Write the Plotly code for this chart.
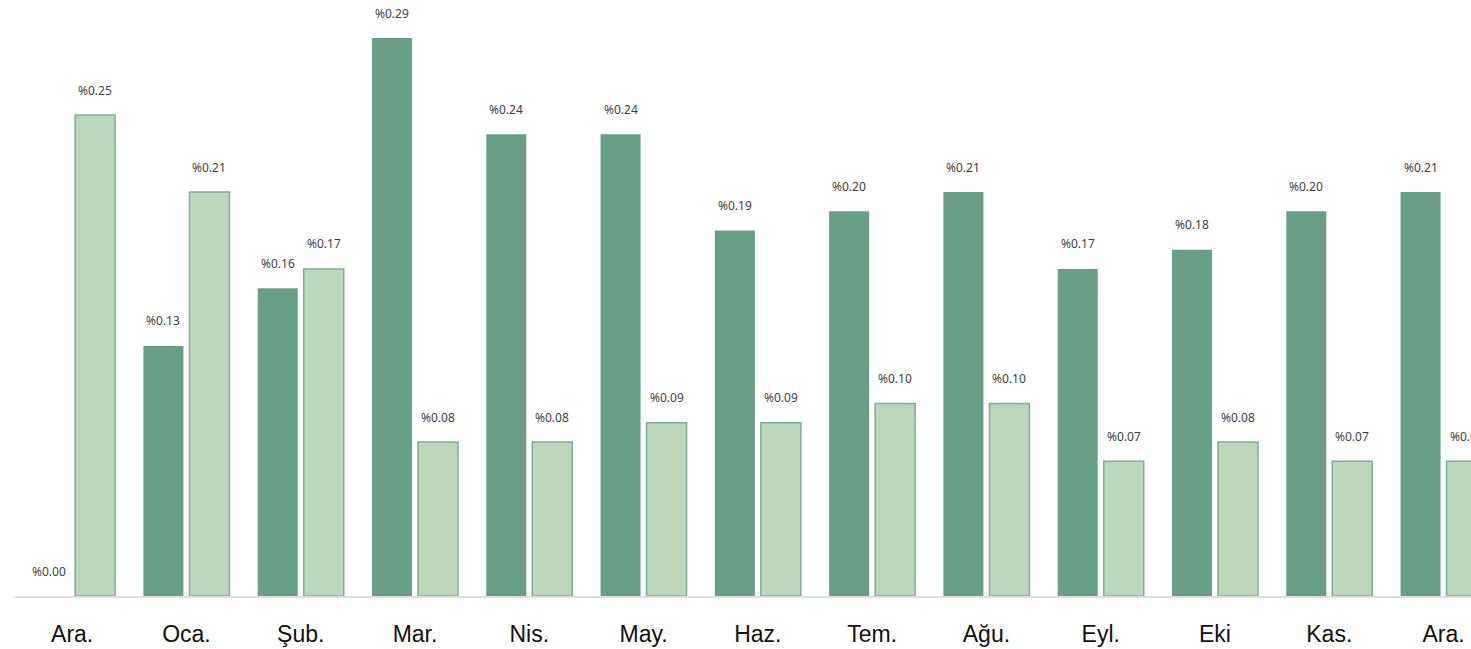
import plotly.graph_objects as go

categories = ["Ara.", "Oca.", "Şub.", "Mar.", "Nis.", "May.", "Haz.", "Tem.", "Ağu.", "Eyl.", "Eki", "Kas.", "Ara."]
series_a = [0.00, 0.13, 0.16, 0.29, 0.24, 0.24, 0.19, 0.20, 0.21, 0.17, 0.18, 0.20, 0.21]
series_b = [0.25, 0.21, 0.17, 0.08, 0.08, 0.09, 0.09, 0.10, 0.10, 0.07, 0.08, 0.07, 0.07]

x_idx = list(range(len(categories)))

fig = go.Figure()
fig.add_trace(go.Bar(
    x=x_idx, y=series_a, name="A",
    marker=dict(color="#6a9f87", line=dict(width=0)),
))
fig.add_trace(go.Bar(
    x=x_idx, y=series_b, name="B",
    marker=dict(color="#bdd7bd", line=dict(color="#7fae95", width=1.5)),
))

label_font = dict(family="Noto Sans, Open Sans, sans-serif", size=12, color="#3f3f3f")
for vals, shift in ((series_a, -23), (series_b, 23)):
    for x, v in zip(x_idx, vals):
        fig.add_annotation(
            x=x, y=v, text="%%%.2f" % v, showarrow=False,
            xshift=shift, yshift=25, font=label_font,
            xanchor="center", yanchor="middle",
        )

fig.update_layout(
    width=1471, height=649,
    margin=dict(l=15, r=0, t=0, b=53),
    paper_bgcolor="white", plot_bgcolor="white",
    showlegend=False,
    barmode="group", bargap=0.195, bargroupgap=0.13,
    xaxis=dict(
        tickmode="array", tickvals=x_idx, ticktext=categories,
        range=[-0.5, 12.24],
        showgrid=False, zeroline=False,
        showline=True, linecolor="#dedede", linewidth=1.5,
        ticks="", ticklabelstandoff=17,
        tickfont=dict(family="Liberation Sans, Arial, sans-serif", size=23, color="#111111"),
    ),
    yaxis=dict(
        range=[0, 0.3098], visible=False, showgrid=False, zeroline=False,
    ),
)

fig.write_html(
    "out.html",
    config={"displayModeBar": False},
    post_script="document.body.style.margin='0';document.body.style.overflow='hidden';",
)
